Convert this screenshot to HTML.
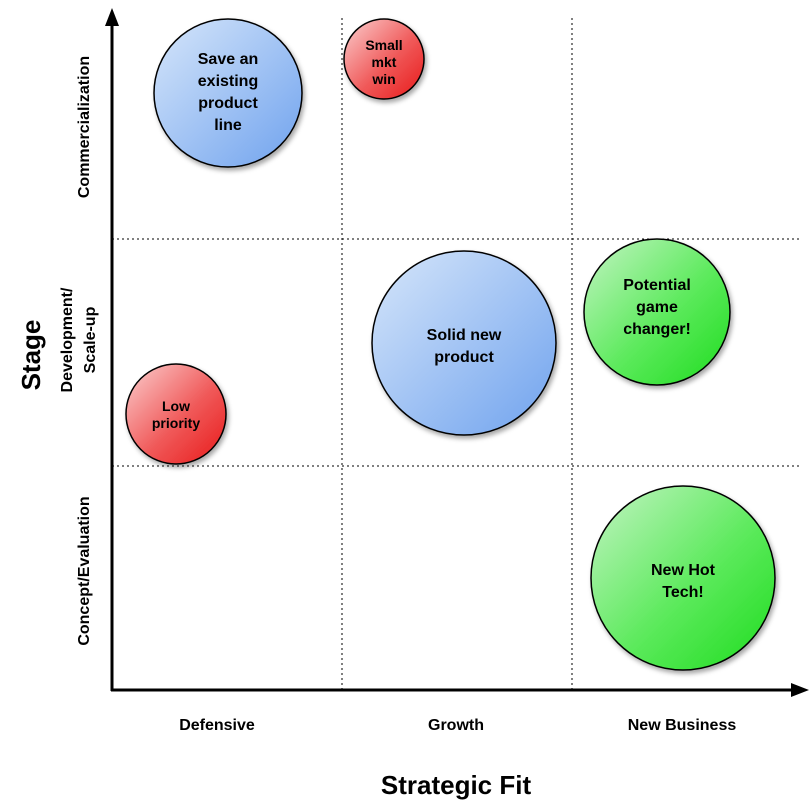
<!DOCTYPE html>
<html><head><meta charset="utf-8"><style>
html,body{margin:0;padding:0;background:#fff;}
svg{display:block;font-family:"Liberation Sans",Arial,sans-serif;font-weight:bold;}
</style></head><body>
<svg width="812" height="809" viewBox="0 0 812 809" xmlns="http://www.w3.org/2000/svg">
<defs>
<linearGradient id="bl" x1="0" y1="0" x2="1" y2="1"><stop offset="0" stop-color="#d6e6fa"/><stop offset="1" stop-color="#6fa2ee"/></linearGradient>
<linearGradient id="rd" x1="0" y1="0" x2="1" y2="1"><stop offset="0" stop-color="#fbd0d0"/><stop offset="0.55" stop-color="#f05a5a"/><stop offset="1" stop-color="#e81818"/></linearGradient>
<linearGradient id="gr" x1="0" y1="0" x2="1" y2="1"><stop offset="0" stop-color="#c4f4c4"/><stop offset="0.55" stop-color="#5cea5c"/><stop offset="1" stop-color="#1edc1e"/></linearGradient>
<filter id="sh" x="-20%" y="-20%" width="150%" height="150%"><feDropShadow dx="2" dy="3" stdDeviation="2.5" flood-color="#000" flood-opacity="0.35"/></filter>
</defs>
<g stroke="#000" stroke-width="1" stroke-dasharray="2,3">
<line x1="342" y1="18" x2="342" y2="690"/>
<line x1="572" y1="18" x2="572" y2="690"/>
<line x1="112" y1="239" x2="802" y2="239"/>
<line x1="112" y1="466" x2="802" y2="466"/>
</g>
<line x1="112" y1="22" x2="112" y2="691" stroke="#000" stroke-width="3"/>
<line x1="111" y1="690" x2="796" y2="690" stroke="#000" stroke-width="3"/>
<polygon points="112,8 105,26 119,26" fill="#000"/>
<polygon points="809,690 791,683 791,697" fill="#000"/>
<g stroke="#000" stroke-width="1.5" filter="url(#sh)">
<circle cx="228" cy="93" r="74" fill="url(#bl)"/>
<circle cx="384" cy="59" r="40" fill="url(#rd)"/>
<circle cx="464" cy="343" r="92" fill="url(#bl)"/>
<circle cx="657" cy="312" r="73" fill="url(#gr)"/>
<circle cx="176" cy="414" r="50" fill="url(#rd)"/>
<circle cx="683" cy="578" r="92" fill="url(#gr)"/>
</g>
<g text-anchor="middle" font-size="16" fill="#000">
<text x="228" y="64">Save an</text><text x="228" y="86">existing</text><text x="228" y="108">product</text><text x="228" y="130">line</text>
<text x="384" y="50" font-size="14">Small</text><text x="384" y="67" font-size="14">mkt</text><text x="384" y="84" font-size="14">win</text>
<text x="464" y="340">Solid new</text><text x="464" y="362">product</text>
<text x="657" y="290">Potential</text><text x="657" y="312">game</text><text x="657" y="334">changer!</text>
<text x="176" y="411" font-size="14">Low</text><text x="176" y="428" font-size="14">priority</text>
<text x="683" y="575">New Hot</text><text x="683" y="597">Tech!</text>
<text x="217" y="730">Defensive</text>
<text x="456" y="730">Growth</text>
<text x="682" y="730">New Business</text>
<text x="456" y="794" font-size="26">Strategic Fit</text>
<text transform="translate(89,127) rotate(-90)">Commercialization</text>
<text transform="translate(72,340) rotate(-90)">Development/</text>
<text transform="translate(95,340) rotate(-90)">Scale-up</text>
<text transform="translate(89,571) rotate(-90)">Concept/Evaluation</text>
<text transform="translate(40,355) rotate(-90)" font-size="26">Stage</text>
</g>
</svg>
</body></html>
